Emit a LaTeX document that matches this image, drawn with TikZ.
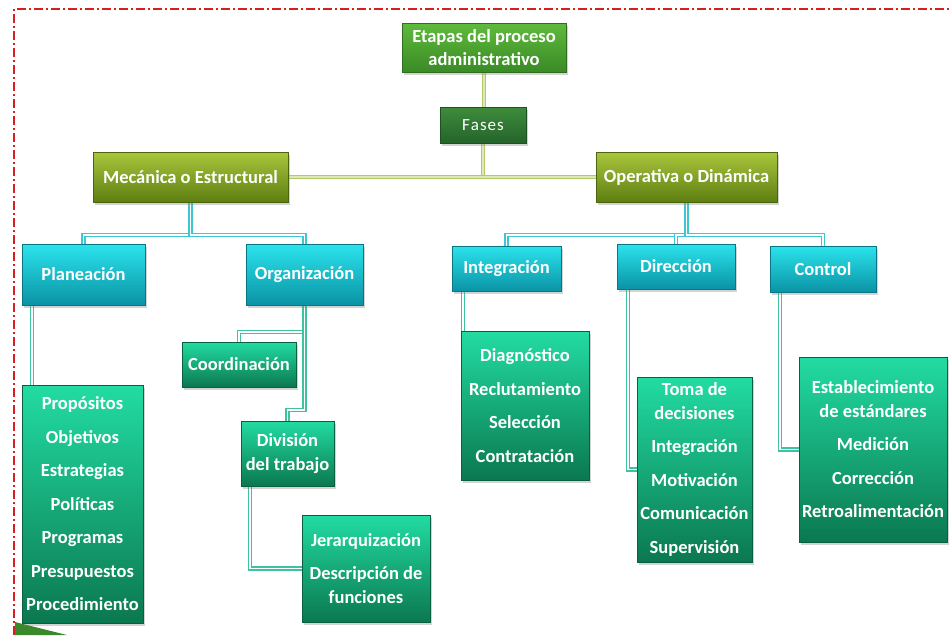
\documentclass[tikz,border=0pt]{standalone}
\usepackage{fontspec}
\setmainfont{Carlito}
\usetikzlibrary{shadows,backgrounds}
\definecolor{bordred}{HTML}{D42020}
\definecolor{etTop}{HTML}{5FBB3C}
\definecolor{etBot}{HTML}{3A8A26}
\definecolor{faTop}{HTML}{3E8C3C}
\definecolor{faBot}{HTML}{25642A}
\definecolor{olTop}{HTML}{A9C63C}
\definecolor{olBot}{HTML}{5E7E12}
\definecolor{cyTop}{HTML}{2BE3EC}
\definecolor{cyBot}{HTML}{0A93A5}
\definecolor{grTop}{HTML}{22DCA2}
\definecolor{grBot}{HTML}{0B7850}
\definecolor{olLine}{HTML}{B3CA66}
\definecolor{cyLine}{HTML}{3BC8D2}
\definecolor{grLine}{HTML}{3DC3A0}
\definecolor{wedge}{HTML}{3A8A2C}
\begin{document}
\begin{tikzpicture}[x=1pt,y=-1pt,
  shad/.style={drop shadow={opacity=0.35,shadow xshift=2pt,shadow yshift=-2.5pt}},
  box/.style={rectangle, inner sep=1pt, align=center, text=white,
    font=\bfseries\fontsize{18.5}{23.5}\selectfont, shad, line width=0.6pt},
  etbox/.style={box, top color=etTop, bottom color=etBot, draw=etBot!80!black},
  fabox/.style={box, top color=faTop, bottom color=faBot, draw=faBot!80!black,
    font=\fontsize{17}{20}\selectfont},
  olbox/.style={box, top color=olTop, bottom color=olBot, draw=olBot!80!black},
  cybox/.style={box, top color=cyTop, bottom color=cyBot, draw=cyBot!80!black},
  grbox/.style={box, top color=grTop, bottom color=grBot, draw=grBot!80!black},
  ollink/.style={draw=olLine, line width=1.5pt, double=olLine!45!white, double distance=1.8pt},
  cylink/.style={draw=cyLine, line width=1.2pt, double=white, double distance=1.8pt},
  grlink/.style={draw=grLine, line width=1.2pt, double=white, double distance=1.8pt},
  frame/.style={draw=bordred, line width=1.5pt, dash pattern=on 9pt off 3pt on 2pt off 3pt}
]
\useasboundingbox (0,0) rectangle (951,635);

% top level
\node[etbox, minimum width=164, minimum height=49] (etapas) at (484,47.5) {Etapas del proceso\\administrativo};
\node[fabox, minimum width=86, minimum height=36] (fases) at (483,125) {F\kern1pt a\kern1pt s\kern1pt e\kern1pt s};
\node[olbox, minimum width=195, minimum height=50] (mec) at (190.5,177) {Mecánica o Estructural};
\node[olbox, minimum width=181, minimum height=50] (oper) at (686.5,177) {Operativa o Dinámica};

% second level
\node[cybox, minimum width=123, minimum height=61] (plan) at (83.5,274.5) {Planeación};
\node[cybox, minimum width=117, minimum height=61] (org) at (304.5,274.5) {Organización};
\node[cybox, minimum width=109, minimum height=45] (integ) at (506.5,268.5) {Integración};
\node[cybox, minimum width=118, minimum height=45] (dir) at (676,266.5) {Dirección};
\node[cybox, minimum width=106, minimum height=46] (ctrl) at (823,269) {Control};

% third level
\node[grbox, minimum width=121, minimum height=238] (prop) at (82.5,504)
  {Propósitos\\[10pt]Objetivos\\[10pt]Estrategias\\[10pt]Políticas\\[10pt]Programas\\[10pt]Presupuestos\\[10pt]Procedimiento};
\node[grbox, minimum width=114, minimum height=45] (coord) at (239,364.5) {Coordinación};
\node[grbox, minimum width=93, minimum height=65] (div) at (287.5,453.5) {División\\del trabajo};
\node[grbox, minimum width=128, minimum height=107] (jer) at (366,568.5) {Jerarquización\\[10pt]Descripción de\\funciones};
\node[grbox, minimum width=128, minimum height=149] (diag) at (525,405.5)
  {Diagnóstico\\[10pt]Reclutamiento\\[10pt]Selección\\[10pt]Contratación};
\node[grbox, minimum width=115, minimum height=185] (toma) at (694.5,469.5)
  {Toma de\\decisiones\\[10pt]Integración\\[10pt]Motivación\\[10pt]Comunicación\\[10pt]Supervisión};
\node[grbox, minimum width=148, minimum height=185] (estab) at (873,449.5)
  {Establecimiento\\de estándares\\[10pt]Medición\\[10pt]Corrección\\[10pt]Retroalimentación};

\begin{scope}[on background layer]
  % frame
  \draw[frame] (14,635) -- (14,9) -- (951,9);
  \fill[wedge] (15,622) -- (67,635) -- (15,635) -- cycle;
  % olive links
  \draw[ollink] (etapas.south) -- (etapas.south |- fases.north);
  \draw[ollink] (fases.south) -- (fases.south |- mec.east);
  \draw[ollink] (mec.east) -- (oper.west);
  % cyan links
  \draw[cylink] (mec.south) -- ++(0,33) -| (plan.north);
  \draw[cylink] (mec.south) -- ++(0,33) -| (org.north);
  \draw[cylink] (oper.south) -- ++(0,33) -| (integ.north);
  \draw[cylink] (oper.south) -- ++(0,33) -| (dir.north);
  \draw[cylink] (oper.south) -- ++(0,33) -| (ctrl.north);
  % green links
  \draw[grlink] ([xshift=10pt]plan.south west) -- ([xshift=10pt]plan.south west |- prop.north);
  \draw[grlink] (org.south) -- ++(0,27) -| (coord.north);
  \draw[grlink] (org.south) -- ++(0,105) -| (div.north);
  \draw[grlink] ([xshift=9pt]div.south west) |- (jer.west);
  \draw[grlink] ([xshift=11pt]integ.south west) -- ([xshift=11pt]integ.south west |- diag.north);
  \draw[grlink] ([xshift=11pt]dir.south west) |- (toma.west);
  \draw[grlink] ([xshift=10pt]ctrl.south west) |- (estab.west);
\end{scope}
\end{tikzpicture}
\end{document}
